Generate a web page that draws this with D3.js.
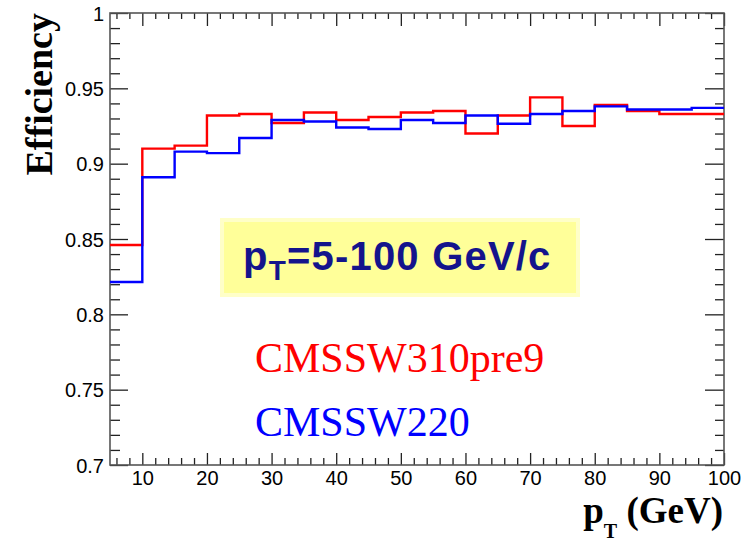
<!DOCTYPE html>
<html>
<head>
<meta charset="utf-8">
<script src="https://cdn.jsdelivr.net/npm/d3@7"></script>
<style>
  body { margin: 0; background: #fff; }
  svg { display: block; }
</style>
</head>
<body>
<div id="chart"></div>
<script>
// bin edges of the pT histograms (GeV)
var binEdges = [5, 10, 15, 20, 25, 30, 35, 40, 45, 50, 55, 60, 65, 70, 75, 80, 85, 90, 95, 100];

// efficiency per bin
var effNew = [0.846, 0.910, 0.912, 0.932, 0.933, 0.927, 0.934, 0.929, 0.931, 0.934,
              0.935, 0.920, 0.932, 0.944, 0.925, 0.939, 0.935, 0.933, 0.933];
var effOld = [0.8215, 0.891, 0.908, 0.907, 0.917, 0.929, 0.928, 0.924, 0.923, 0.929,
              0.927, 0.932, 0.9265, 0.933, 0.935, 0.938, 0.936, 0.936, 0.937];

var seriesNames = ["CMSSW310pre9", "CMSSW220"];
var yTickValues = [0.7, 0.75, 0.8, 0.85, 0.9, 0.95, 1];
var xTickValues = [10, 20, 30, 40, 50, 60, 70, 80, 90, 100];

var width = 751,
    height = 542,
    margin = { left: 110, right: 27, top: 13, bottom: 77 };

function translate(xDelta, yDelta){
    return "translate(" + xDelta + "," + yDelta + ")";
}

var ww = width - margin.left - margin.right,
    hh = height - margin.top - margin.bottom;

var xScale = d3.scaleLinear().domain([5, 100]).range([0, ww]);
var yScale = d3.scaleLinear().domain([0.7, 1]).range([hh, 0]);

var svg = d3.select("#chart")
            .append("svg")
            .attr("width", width)
            .attr("height", height);

svg.append("rect")
    .attr("width", width)
    .attr("height", height)
    .attr("fill", "#fff");

var g = svg.append("g").attr("transform", translate(margin.left, margin.top));

// minor ticks: every 2 GeV on x, every 0.01 on y
var xMinor = d3.range(6, 100, 2).filter(function(d){ return d % 10 != 0; });
var yMinor = d3.range(71, 100, 1).map(function(d){ return d / 100; })
               .filter(function(d){ return Math.round(d * 100) % 5 != 0; });

// ticks all point into the frame (ROOT style)
var xAxisMajor = d3.axisBottom(xScale).tickValues(xTickValues).tickSize(-12).tickPadding(6).tickFormat(d3.format("d"));
var xAxisMinor = d3.axisBottom(xScale).tickValues(xMinor).tickSize(-7).tickFormat("");
var xTopMajor = d3.axisTop(xScale).tickValues(xTickValues).tickSize(-13).tickFormat("");
var xTopMinor = d3.axisTop(xScale).tickValues(xMinor).tickSize(-6).tickFormat("");

var yAxisMajor = d3.axisLeft(yScale).tickValues(yTickValues).tickSize(-18).tickPadding(6)
                   .tickFormat(function(d){ return String(+d.toFixed(2)); });
var yAxisMinor = d3.axisLeft(yScale).tickValues(yMinor).tickSize(-10).tickFormat("");
var yRightMajor = d3.axisRight(yScale).tickValues(yTickValues).tickSize(-19).tickFormat("");
var yRightMinor = d3.axisRight(yScale).tickValues(yMinor).tickSize(-9).tickFormat("");

function drawAxis(axis, tx, ty){
    var a = g.append("g")
        .attr("transform", translate(tx, ty))
        .call(axis);
    a.select(".domain").remove();
    a.selectAll(".tick line").attr("stroke", "#222").attr("stroke-width", 1.3);
    a.selectAll("text")
        .attr("font-family", "Liberation Sans, Arial, sans-serif")
        .attr("font-size", 20)
        .attr("fill", "#000");
    return a;
}

drawAxis(xAxisMajor, 0, hh);
drawAxis(xAxisMinor, 0, hh);
drawAxis(xTopMajor, 0, 0);
drawAxis(xTopMinor, 0, 0);
drawAxis(yAxisMajor, 0, 0).selectAll("text").attr("dy", "0.36em");
drawAxis(yAxisMinor, 0, 0);
drawAxis(yRightMajor, ww, 0);
drawAxis(yRightMinor, ww, 0);

// frame
g.append("rect")
    .attr("x", 0)
    .attr("y", 0)
    .attr("width", ww)
    .attr("height", hh)
    .attr("fill", "none")
    .attr("stroke", "#555")
    .attr("stroke-width", 1.6);

// histogram step lines
function stepPoints(values){
    var pts = [];
    values.forEach(function(v, i){
        pts.push([binEdges[i], v]);
        pts.push([binEdges[i + 1], v]);
    });
    return pts;
}

var line = d3.line()
    .x(function(d){ return xScale(d[0]); })
    .y(function(d){ return yScale(d[1]); });

g.append("path")
    .datum(stepPoints(effNew))
    .attr("d", line)
    .attr("fill", "none")
    .attr("stroke", "#ff0000")
    .attr("stroke-width", 2.4);

g.append("path")
    .datum(stepPoints(effOld))
    .attr("d", line)
    .attr("fill", "none")
    .attr("stroke", "#0000ff")
    .attr("stroke-width", 2.4);

// pT range box
svg.append("rect")
    .attr("x", 222)
    .attr("y", 220)
    .attr("width", 356)
    .attr("height", 75)
    .attr("fill", "#ffff99")
    .attr("stroke", "#ffffc8")
    .attr("stroke-width", 4);

var boxText = svg.append("text")
    .attr("x", 243)
    .attr("y", 270)
    .attr("font-family", "Liberation Sans, Arial, sans-serif")
    .attr("font-weight", "bold")
    .attr("font-size", 40)
    .attr("letter-spacing", 1.2)
    .attr("fill", "#14148c");
boxText.append("tspan").text("p");
boxText.append("tspan").attr("font-size", 28).attr("dy", 10).text("T");
boxText.append("tspan").attr("dy", -10).text("=5-100 GeV/c");

// legend text
svg.append("text")
    .attr("x", 255)
    .attr("y", 372)
    .attr("font-family", "Liberation Serif, Times New Roman, serif")
    .attr("font-size", 42)
    .attr("fill", "#ff0000")
    .text(seriesNames[0]);

svg.append("text")
    .attr("x", 255)
    .attr("y", 436)
    .attr("font-family", "Liberation Serif, Times New Roman, serif")
    .attr("font-size", 42)
    .attr("fill", "#0000ff")
    .text(seriesNames[1]);

// axis titles
svg.append("text")
    .attr("transform", translate(52, 13) + " rotate(-90)")
    .attr("text-anchor", "end")
    .attr("font-family", "Liberation Serif, Times New Roman, serif")
    .attr("font-weight", "bold")
    .attr("font-size", 38)
    .attr("fill", "#000")
    .text("Efficiency");

var xTitle = svg.append("text")
    .attr("x", 723)
    .attr("y", 523)
    .attr("text-anchor", "end")
    .attr("font-family", "Liberation Serif, Times New Roman, serif")
    .attr("font-weight", "bold")
    .attr("font-size", 37)
    .attr("fill", "#000");
xTitle.append("tspan").text("p");
xTitle.append("tspan").attr("font-size", 20).attr("dy", 15).text("T");
xTitle.append("tspan").attr("dy", -15).text(" (GeV)");
</script>
</body>
</html>
